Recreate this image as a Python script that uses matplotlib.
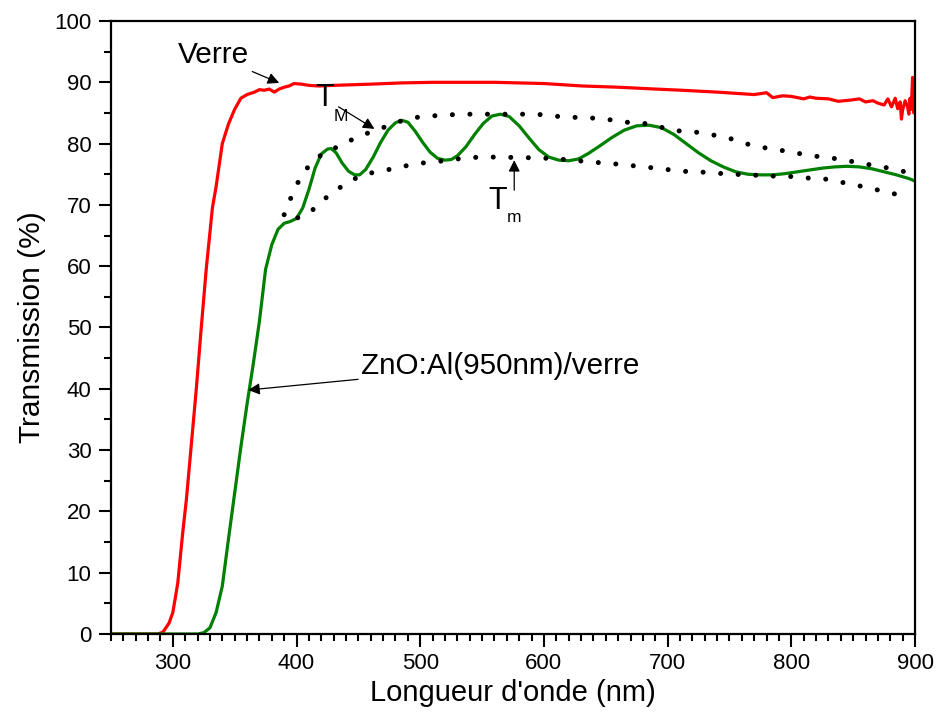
import numpy as np
import matplotlib.pyplot as plt
from matplotlib.ticker import MultipleLocator

plt.rcParams['font.family'] = ['Liberation Sans', 'DejaVu Sans']

# Verre (glass substrate)
verre_nm = [250, 288, 292, 297, 300, 304, 308, 311, 315, 319, 323, 327, 328, 332, 335, 340,
            345, 350, 355, 360, 366, 370, 374, 378, 382, 386, 390, 394, 398, 404, 410, 418,
            430, 445, 460, 485, 510, 540, 560, 580, 600, 631, 660, 690, 712, 740, 770, 780,
            785, 793, 800, 810, 815, 820, 830, 838, 848, 855, 860, 866, 870, 875, 878, 881,
            884, 886, 888, 889, 890, 892, 894, 895, 896, 897, 898, 899, 900]
verre_T = [0, 0, 0.3, 1.8, 3.5, 8.3, 16.5, 22, 31, 40, 50, 59.5, 61.5, 69.5, 73, 80,
           83.2, 85.6, 87.4, 88.0, 88.4, 88.8, 88.7, 88.9, 88.4, 88.9, 89.2, 89.4, 89.8, 89.7, 89.5, 89.4,
           89.5, 89.6, 89.7, 89.9, 90.0, 90.0, 90.0, 89.9, 89.8, 89.4, 89.2, 88.9, 88.7, 88.4, 88.0, 88.3,
           87.5, 87.8, 87.7, 87.3, 87.6, 87.4, 87.3, 86.9, 87.1, 87.3, 86.8, 87.0, 86.6, 86.3, 87.3, 86.0,
           87.4, 85.7, 86.8, 84.0, 85.5, 87.0, 86.0, 84.8, 87.4, 85.6, 90.8, 85.0, 88.5]

# ZnO:Al (950 nm) / verre
zno_nm = [250, 320, 325, 330, 335, 340, 345, 350, 355, 360, 365, 370, 375, 380, 385, 390,
          395, 400, 405, 410, 415, 420, 425, 428, 432, 437, 442, 447, 451, 456, 462, 468,
          474, 480, 485, 490, 496, 502, 508, 514, 520, 525, 530, 537, 544, 551, 558, 565,
          572, 580, 588, 596, 604, 612, 620, 628, 636, 645, 655, 665, 675, 685, 695, 705,
          715, 725, 735, 745, 755, 765, 775, 785, 795, 805, 815, 825, 835, 845, 855, 865,
          875, 885, 895, 900]
zno_T = [0, 0, 0.2, 1.0, 3.5, 7.8, 15.5, 23, 30.5, 37.5, 44, 51, 59.5, 63.5, 66, 67,
         67.3, 67.8, 69.5, 72.5, 76, 78.3, 79.1, 79.2, 78.5, 76.8, 75.5, 74.9, 74.9, 75.8, 77.8, 80.2,
         82.2, 83.4, 83.8, 83.5, 82.0, 80.2, 78.6, 77.6, 77.3, 77.4, 78.0, 79.5, 81.5, 83.3, 84.5, 84.8,
         84.4, 82.9, 80.9, 79.0, 77.8, 77.3, 77.2, 77.5, 78.4, 79.6, 81.0, 82.2, 82.9, 83.0, 82.6, 81.5,
         80.0, 78.5, 77.2, 76.2, 75.4, 75.0, 74.9, 74.9, 75.1, 75.4, 75.7, 76.0, 76.2, 76.3, 76.2, 75.9,
         75.4, 74.9, 74.3, 73.9]

# enveloppes
TM_nm = [390, 394, 404, 412, 422, 437, 450, 465, 480, 493, 508, 523, 537, 550, 565, 579, 594,
         607, 622, 637, 650, 665, 679, 694, 707, 722, 737, 751, 765, 776, 789, 803, 817, 831,
         846, 859, 874, 892, 900]
TM_T = [68.4, 70.5, 74.9, 76.8, 78.5, 79.8, 81.2, 82.2, 83.4, 84.2, 84.5, 84.7, 84.8, 84.8, 84.8, 84.8, 84.8,
        84.5, 84.3, 84.2, 84.0, 83.5, 83.4, 82.7, 82.1, 81.9, 81.4, 80.8, 79.9, 79.4, 79.0, 78.5, 78.0, 77.7,
        77.2, 76.7, 76.2, 75.4, 75.0]
Tm_nm = [401, 411, 419, 428, 441, 453, 467, 481, 495, 510, 524, 537, 552, 567, 581, 595, 610,
         624, 637, 652, 667, 681, 695, 710, 724, 738, 752, 767, 781, 796, 812, 828, 843, 860,
         877, 894]
Tm_T = [67.9, 68.8, 70.3, 71.9, 73.6, 74.9, 75.5, 76.0, 76.7, 77.0, 77.3, 77.7, 77.8, 77.8, 77.7, 77.7, 77.5,
        77.3, 77.0, 76.8, 76.5, 76.2, 75.9, 75.5, 75.4, 75.2, 75.0, 74.9, 74.7, 74.7, 74.4, 74.2, 73.6, 72.9,
        72.1, 71.3]

fig = plt.figure(figsize=(9.38, 7.22), dpi=100)
ax = fig.add_axes([0.1183, 0.1219, 0.8572, 0.849])

ax.plot(verre_nm, verre_T, color='#ff0000', lw=2.3)
ax.plot(zno_nm, zno_T, color='#008000', lw=2.3)
dot = dict(color='black', lw=3.6, dashes=(0.01, 3.5), dash_capstyle='round')
ax.plot(TM_nm, TM_T, **dot)
ax.plot(Tm_nm, Tm_T, **dot)

ax.set_xlim(250, 900)
ax.set_ylim(0, 100)
ax.xaxis.set_major_locator(MultipleLocator(100))
ax.xaxis.set_minor_locator(MultipleLocator(10))
ax.yaxis.set_major_locator(MultipleLocator(10))
ax.yaxis.set_minor_locator(MultipleLocator(5))
ax.tick_params(which='major', direction='out', length=9, width=1.5, labelsize=16, pad=5)
ax.tick_params(which='minor', direction='out', length=5, width=1.5)
for s in ax.spines.values():
    s.set_linewidth(1.6)

ax.set_xlabel("Longueur d'onde (nm)", fontsize=21, labelpad=3)
ax.set_ylabel("Transmission (%)", fontsize=21.5, labelpad=6)

arr = dict(arrowstyle='-|>', color='black', lw=0.9, mutation_scale=17, shrinkA=0, shrinkB=0)
ax.annotate('Verre', xy=(386, 89.9), xytext=(362, 94.4), fontsize=21.5,
            ha='right', va='center', arrowprops=arr)
ax.annotate('ZnO:Al(950nm)/verre', xy=(361, 39.8), xytext=(452, 43.8), fontsize=21.3,
            ha='left', va='center', arrowprops=arr)
ax.annotate('', xy=(463, 82.4), xytext=(434, 86.0), arrowprops=arr)
ax.text(423, 87.4, 'T', fontsize=22, ha='center', va='center')
ax.text(436, 84.4, 'M', fontsize=12.5, ha='center', va='center')
ax.annotate('', xy=(576, 77.3), xytext=(576, 72.4), arrowprops=arr)
ax.text(563, 70.7, 'T', fontsize=22, ha='center', va='center')
ax.text(576, 68.0, 'm', fontsize=12.5, ha='center', va='center')

fig.savefig('out.png', dpi=100)
